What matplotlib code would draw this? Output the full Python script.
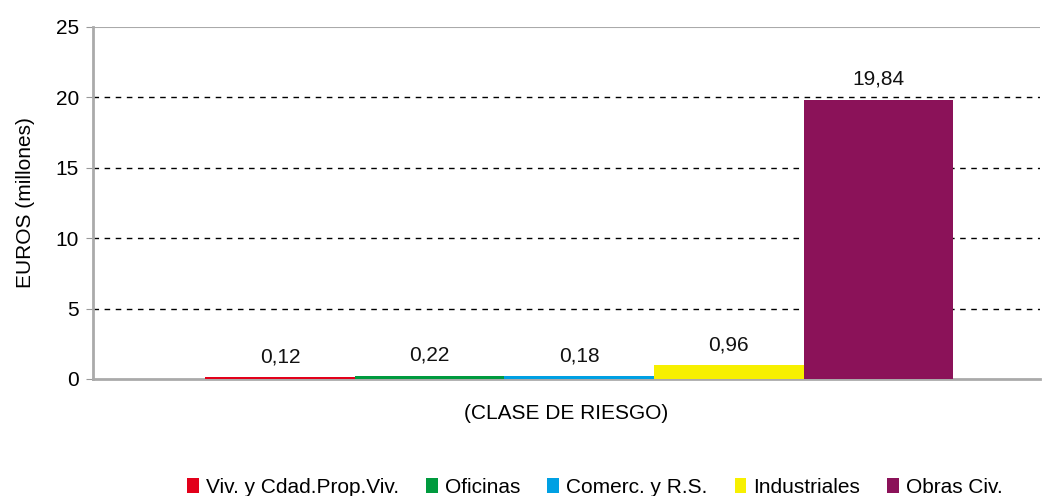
import matplotlib.pyplot as plt
from matplotlib.patches import Patch

# Siniestralidad por clase de riesgo (millones de euros)
clases = ['Viv. y Cdad.Prop.Viv.', 'Oficinas', 'Comerc. y R.S.',
          'Industriales', 'Obras Civ.']
valores = [0.12, 0.22, 0.18, 0.96, 19.84]
colores = ['#E2001A', '#009A3E', '#00A0E3', '#F7F000', '#8B1259']
y_ticks = [0, 5, 10, 15, 20, 25]

plt.rcParams['font.family'] = ['Liberation Sans', 'DejaVu Sans']

fig = plt.figure(figsize=(10.53, 4.96), dpi=100)
ax = fig.add_axes([0.0883, 0.2359, 0.8994, 0.7097])

pos = list(range(len(valores)))
ax.bar(pos, valores, width=1.0, color=colores, zorder=3)

for x, v in zip(pos, valores):
    ax.annotate(f'{v:.2f}'.replace('.', ','), (x, v), xytext=(0, 8),
                textcoords='offset points', ha='center', va='bottom',
                fontsize=15, color='#111111')

ax.set_xlim(-1.249, 5.08)
ax.set_ylim(0, 25)
ax.set_yticks(y_ticks)
ax.set_xticks([])
ax.tick_params(axis='y', labelsize=15, length=5, color='#999999', pad=5)

for y in y_ticks[1:-1]:
    ax.axhline(y, color='black', linestyle=(0, (4, 4)), linewidth=1, zorder=1)
ax.axhline(25, color='#aaaaaa', linewidth=1.5, zorder=1)

for s in ['top', 'right']:
    ax.spines[s].set_visible(False)
for s in ['left', 'bottom']:
    ax.spines[s].set_color('#aaaaaa')
    ax.spines[s].set_linewidth(2)

ax.set_ylabel('EUROS (millones)', fontsize=15, labelpad=15)
ax.set_xlabel('(CLASE DE RIESGO)', fontsize=15, labelpad=18)

handles = [Patch(facecolor=c, label=n) for c, n in zip(colores, clases)]
fig.legend(handles=handles, loc='center', bbox_to_anchor=(0.565, 0.017),
           ncol=5, frameon=False, handlelength=0.55,
           handleheight=0.7, handletextpad=0.35, columnspacing=1.3,
           prop={'size': 15})

fig.savefig('out.png', dpi=100)
